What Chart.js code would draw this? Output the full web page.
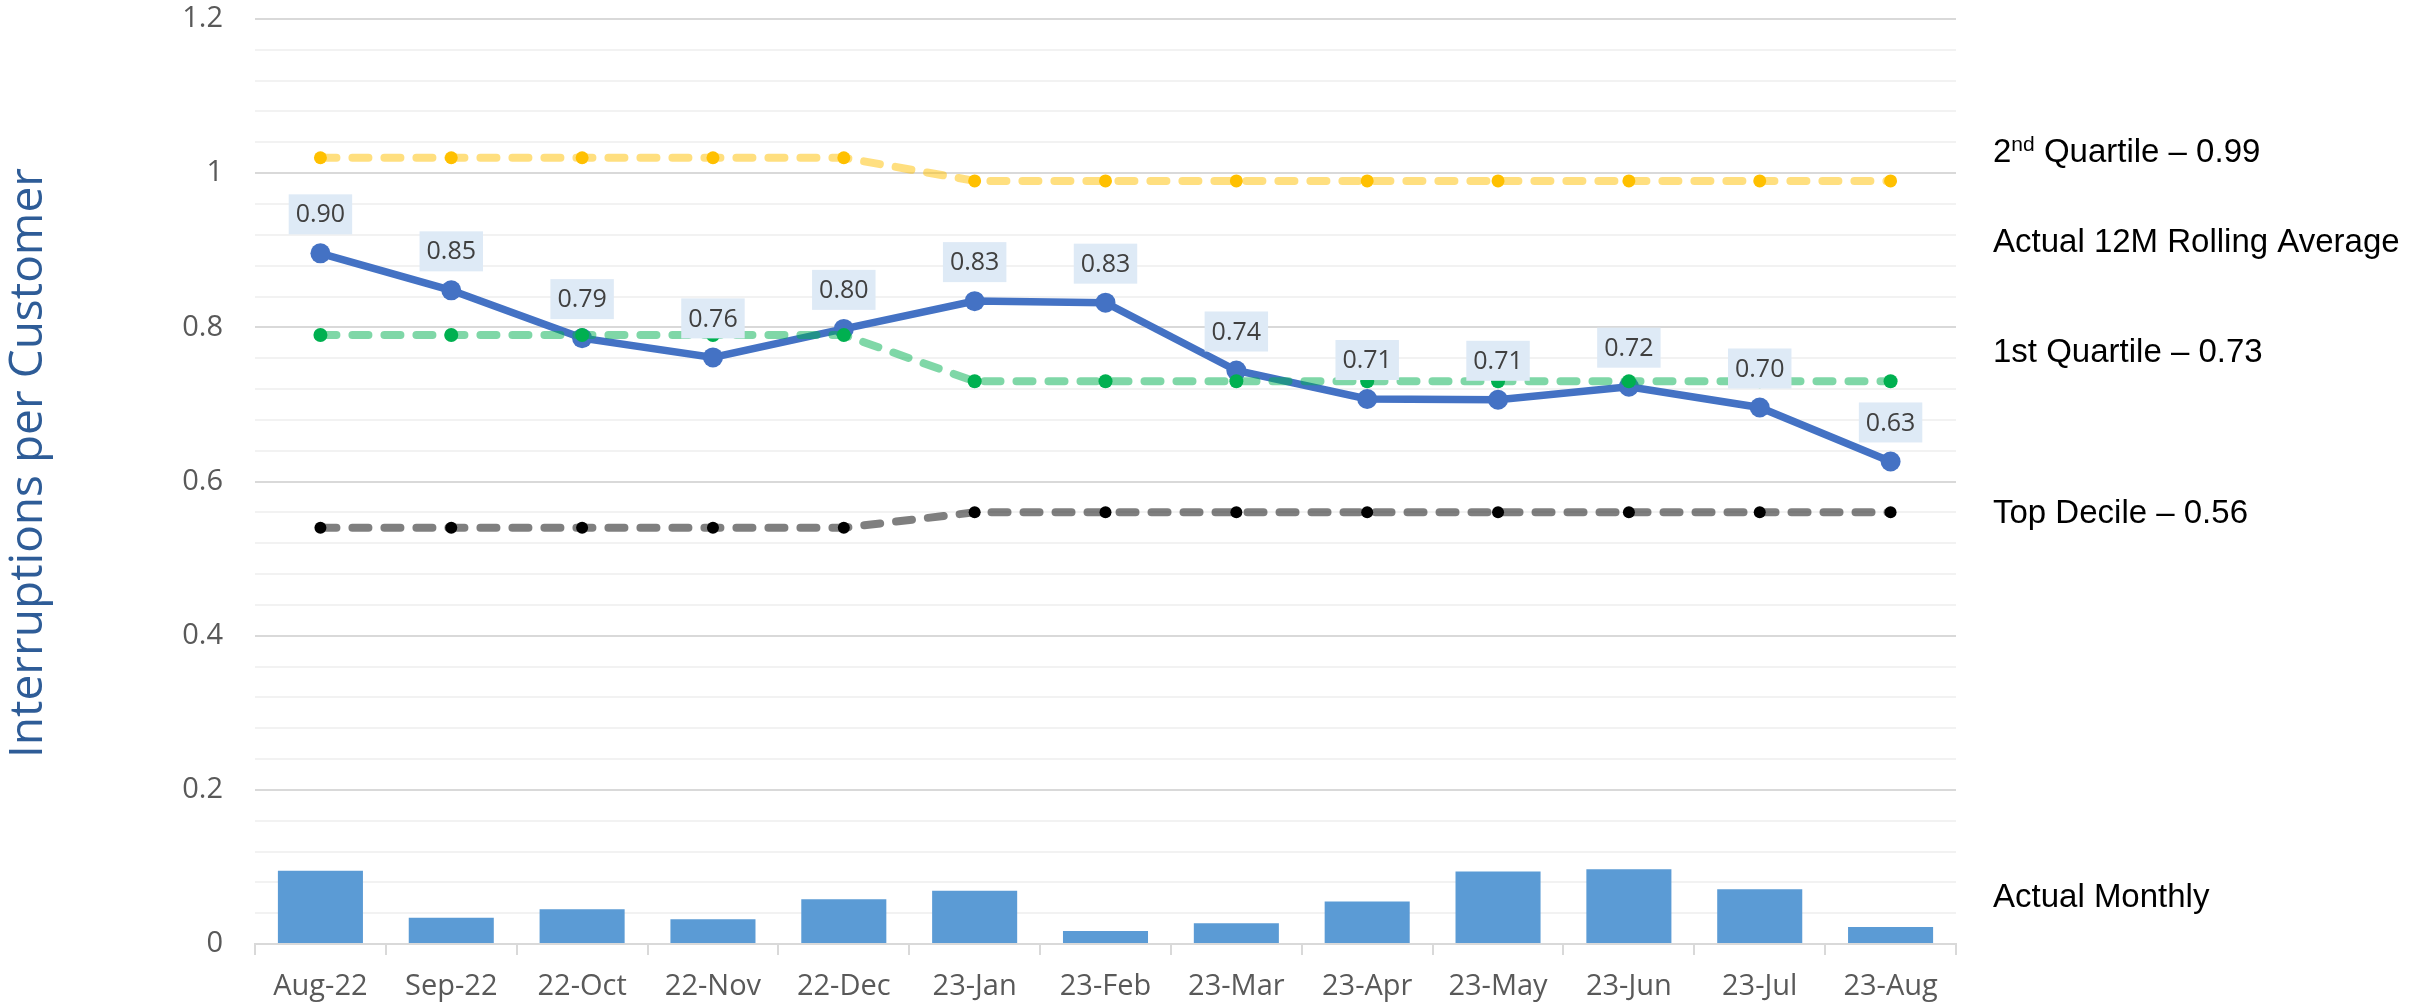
<!DOCTYPE html>
<html>
<head>
<meta charset="utf-8">
<title>Interruptions per Customer</title>
<script src="https://cdn.jsdelivr.net/npm/chart.js@4.4.0/dist/chart.umd.min.js"></script>
<style>
    html, body { margin: 0; padding: 0; background: #fff; }
    #chartWrap { width: 2433px; height: 1007px; position: relative; }
</style>
</head>
<body>
<div id="chartWrap"><canvas id="ipcChart"></canvas></div>
<script>
const months = ['Aug-22', 'Sep-22', '22-Oct', '22-Nov', '22-Dec', '23-Jan', '23-Feb', '23-Mar', '23-Apr', '23-May', '23-Jun', '23-Jul', '23-Aug'];
const actualMonthly = [0.095, 0.034, 0.045, 0.032, 0.058, 0.069, 0.017, 0.027, 0.055, 0.094, 0.097, 0.071, 0.022];
const rollingAverage = [0.896, 0.848, 0.786, 0.761, 0.798, 0.834, 0.832, 0.744, 0.707, 0.706, 0.723, 0.696, 0.626];
const secondQuartile = [1.02, 1.02, 1.02, 1.02, 1.02, 0.99, 0.99, 0.99, 0.99, 0.99, 0.99, 0.99, 0.99];
const firstQuartile = [0.79, 0.79, 0.79, 0.79, 0.79, 0.73, 0.73, 0.73, 0.73, 0.73, 0.73, 0.73, 0.73];
const topDecile = [0.54, 0.54, 0.54, 0.54, 0.54, 0.56, 0.56, 0.56, 0.56, 0.56, 0.56, 0.56, 0.56];
const yTickLabels = ['0', '0.2', '0.4', '0.6', '0.8', '1', '1.2'];
const yAxisTitle = 'Interruptions per Customer';
const sideLabels = ['Quartile \u2013 0.99', 'Actual 12M Rolling Average', '1st Quartile \u2013 0.73', 'Top Decile \u2013 0.56', 'Actual Monthly'];

const tickFont = { family: '"Open Sans", sans-serif', size: 29 };

function isMajor(v) {
    return Math.round(v * 100) % 20 === 0;
}

// boxed value labels above the rolling average points
const valueLabels = {
    id: 'valueLabels',
    afterDatasetsDraw(chart) {
        const meta = chart.getDatasetMeta(1);
        const ctx = chart.ctx;
        ctx.save();
        ctx.font = '25px "Open Sans"';
        ctx.textAlign = 'center';
        ctx.textBaseline = 'middle';
        meta.data.forEach((pt, i) => {
            const text = rollingAverage[i].toFixed(2);
            const w = ctx.measureText(text).width + 14;
            const h = 40;
            const cy = pt.y - 39;
            ctx.fillStyle = '#deeaf6';
            ctx.fillRect(pt.x - w / 2, cy - h / 2, w, h);
            ctx.fillStyle = '#404040';
            ctx.fillText(text, pt.x, cy + 1);
        });
        ctx.restore();
    }
};

// axis title and the series names on the right
const sideText = {
    id: 'sideText',
    afterDraw(chart) {
        const ctx = chart.ctx;
        const area = chart.chartArea;
        ctx.save();

        ctx.translate(42, 463);
        ctx.rotate(-Math.PI / 2);
        ctx.font = '46px "Open Sans"';
        ctx.fillStyle = '#2e5c97';
        ctx.textAlign = 'center';
        ctx.textBaseline = 'alphabetic';
        ctx.fillText(yAxisTitle, 0, 0);
        ctx.setTransform(1, 0, 0, 1, 0, 0);

        const x = area.right + 37;
        const baselines = [162, 252, 362, 523, 907];
        ctx.fillStyle = '#000';
        ctx.textAlign = 'left';
        ctx.textBaseline = 'alphabetic';
        ctx.font = '33px "Liberation Sans"';

        // 2nd with superscript
        ctx.fillText('2', x, baselines[0]);
        let cx = x + ctx.measureText('2').width;
        ctx.font = '21px "Liberation Sans"';
        ctx.fillText('nd', cx, baselines[0] - 11);
        cx += ctx.measureText('nd').width;
        ctx.font = '33px "Liberation Sans"';
        ctx.fillText(' ' + sideLabels[0], cx, baselines[0]);

        for (let i = 1; i < sideLabels.length; i++) {
            ctx.fillText(sideLabels[i], x, baselines[i]);
        }
        ctx.restore();
    }
};

const ctx = document.getElementById('ipcChart').getContext('2d');
window.ipcChart = new Chart(ctx, {
    type: 'bar',
    data: {
        labels: months,
        datasets: [{
            label: 'Actual Monthly',
            data: actualMonthly,
            backgroundColor: '#5b9bd5',
            barPercentage: 0.65,
            categoryPercentage: 1.0,
            order: 10
        }, {
            type: 'line',
            label: 'Actual 12M Rolling Average',
            data: rollingAverage,
            borderColor: '#4472c4',
            backgroundColor: '#4472c4',
            borderWidth: 7.5,
            pointRadius: 10,
            pointBorderWidth: 0,
            tension: 0,
            order: 5
        }, {
            type: 'line',
            label: '2nd Quartile',
            data: secondQuartile,
            borderColor: 'rgba(255, 192, 0, 0.5)',
            pointBackgroundColor: '#ffc000',
            borderWidth: 8,
            borderDash: [16, 16],
            borderCapStyle: 'round',
            pointRadius: 6.5,
            pointBorderWidth: 0,
            tension: 0,
            order: 3
        }, {
            type: 'line',
            label: '1st Quartile',
            data: firstQuartile,
            borderColor: 'rgba(0, 176, 80, 0.5)',
            pointBackgroundColor: '#00b050',
            borderWidth: 8,
            borderDash: [16, 16],
            borderCapStyle: 'round',
            pointRadius: 7,
            pointBorderWidth: 0,
            tension: 0,
            order: 2
        }, {
            type: 'line',
            label: 'Top Decile',
            data: topDecile,
            borderColor: 'rgba(0, 0, 0, 0.5)',
            pointBackgroundColor: '#000000',
            borderWidth: 8,
            borderDash: [16, 16],
            borderCapStyle: 'round',
            pointRadius: 6,
            pointBorderWidth: 0,
            tension: 0,
            order: 1
        }]
    },
    options: {
        responsive: true,
        maintainAspectRatio: false,
        animation: false,
        layout: { padding: { top: 19, right: 477, left: 0, bottom: 0 } },
        plugins: {
            legend: { display: false },
            tooltip: { enabled: false }
        },
        scales: {
            x: {
                afterFit: scale => { scale.height = 63; },
                border: { color: '#d9d9d9', width: 2 },
                grid: {
                    offset: true,
                    drawOnChartArea: false,
                    drawTicks: true,
                    tickLength: 11,
                    color: '#d9d9d9',
                    lineWidth: 2
                },
                ticks: { color: '#595959', font: tickFont, padding: 14, maxRotation: 0 }
            },
            y: {
                min: 0,
                max: 1.2,
                afterFit: scale => {
                    scale.width = 255;
                    scale.paddingTop = 0;
                    scale.paddingBottom = 0;
                },
                border: { display: false },
                grid: {
                    drawTicks: false,
                    lineWidth: 2,
                    color: c => isMajor(c.tick.value) ? '#d9d9d9' : '#f2f2f2'
                },
                ticks: {
                    stepSize: 0.04,
                    autoSkip: false,
                    maxTicksLimit: 100,
                    padding: 32,
                    color: '#595959',
                    font: tickFont,
                    callback: v => isMajor(v) ? yTickLabels[Math.round(v / 0.2)] : ''
                }
            }
        }
    },
    plugins: [valueLabels, sideText]
});
</script>
</body>
</html>
